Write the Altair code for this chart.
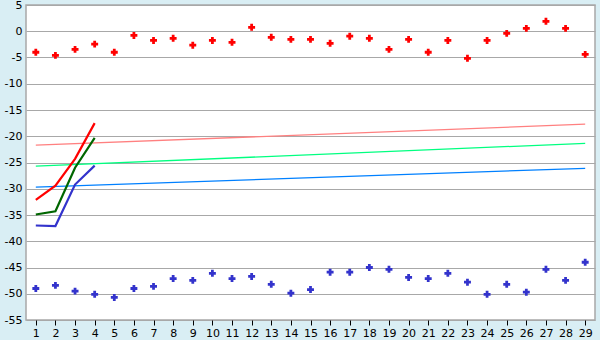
import altair as alt
import pandas as pd

categories = list(range(1, 30))
red_points = [-4.0, -4.6, -3.45, -2.45, -4.0, -0.8, -1.75, -1.35, -2.65,
              -1.75, -2.1, 0.75, -1.15, -1.55, -1.55, -2.3, -0.95, -1.35, -3.45,
              -1.55, -4.0, -1.75, -5.15, -1.75, -0.4, 0.55, 1.9, 0.55, -4.4]
blue_points = [-49.0, -48.4, -49.5, -50.1, -50.7, -49.0, -48.6, -47.1, -47.45,
               -46.1, -47.1, -46.7, -48.2, -49.9, -49.2, -45.9, -45.9, -45.0, -45.35,
               -46.9, -47.1, -46.1, -47.8, -50.1, -48.2, -49.7, -45.35, -47.45, -44.0]

line_x = [1, 2, 3, 4]
red_line = [-32.1, -29.4, -24.3, -17.5]
green_line = [-34.9, -34.3, -26.0, -20.3]
blue_line = [-37.0, -37.1, -29.2, -25.6]

trend_x = [1, 29]
trend_red = [-21.7, -17.7]
trend_green = [-25.7, -21.35]
trend_blue = [-29.7, -26.1]

rows = []
for name, xs, ys in [
    ("trend_red", trend_x, trend_red),
    ("trend_green", trend_x, trend_green),
    ("trend_blue", trend_x, trend_blue),
]:
    for x, y in zip(xs, ys):
        rows.append({"x": x, "y": y, "s": name})
trend_df = pd.DataFrame(rows)

rows = []
for name, ys in [("red", red_line), ("green", green_line), ("blue", blue_line)]:
    for x, y in zip(line_x, ys):
        rows.append({"x": x, "y": y, "s": name})
line_df = pd.DataFrame(rows)

pts = pd.DataFrame(
    [{"x": c, "y": v, "s": "pr"} for c, v in zip(categories, red_points)]
    + [{"x": c, "y": v, "s": "pb"} for c, v in zip(categories, blue_points)]
)

xscale = alt.Scale(domain=[0.5, 29.5], nice=False, zero=False)
yscale = alt.Scale(domain=[-55, 5], nice=False, zero=False)

xenc = alt.X("x:Q", scale=xscale, axis=alt.Axis(
    values=categories, title=None, grid=False, domain=False,
    tickColor="#000000", tickSize=5, labelFontSize=11, labelColor="#000000",
    labelFont="DejaVu Sans", labelPadding=2, labelFlush=False))
yenc = alt.Y("y:Q", scale=yscale, axis=alt.Axis(
    values=list(range(-55, 10, 5)), title=None, grid=True, gridColor="#a8a8a8",
    gridWidth=1.2, domain=False, ticks=False, labelFontSize=11, labelColor="#000000",
    labelFont="DejaVu Sans", labelPadding=4, labelExpr="'' + datum.value",
    labelFlush=False))

color_domain = ["trend_red", "trend_green", "trend_blue", "red", "green", "blue", "pr", "pb"]
color_range = ["#ff8080", "#00ff80", "#0080ff", "#ff0000", "#006600", "#3333cc", "#ff0000", "#3333cc"]
cscale = alt.Scale(domain=color_domain, range=color_range)

trend = alt.Chart(trend_df).mark_line(strokeWidth=1.3).encode(
    x=xenc, y=yenc, color=alt.Color("s:N", scale=cscale, legend=None), detail="s:N")
lines = alt.Chart(line_df).mark_line(strokeWidth=2.2).encode(
    x=xenc, y=yenc, color=alt.Color("s:N", scale=cscale, legend=None), detail="s:N")
points = alt.Chart(pts).mark_point(shape="cross", filled=True, size=48, opacity=1).encode(
    x=xenc, y=yenc, color=alt.Color("s:N", scale=cscale, legend=None))

chart = alt.layer(trend, lines, points).properties(
    width=569, height=315,
    padding={"left": 26, "top": 5, "right": 5, "bottom": 20},
    autosize="none",
    background="#d9eef4",
).configure_view(stroke="#a8a8a8", strokeWidth=1.5, fill="#ffffff")

chart.save("out.html", embed_options={"renderer": "svg", "actions": False})
